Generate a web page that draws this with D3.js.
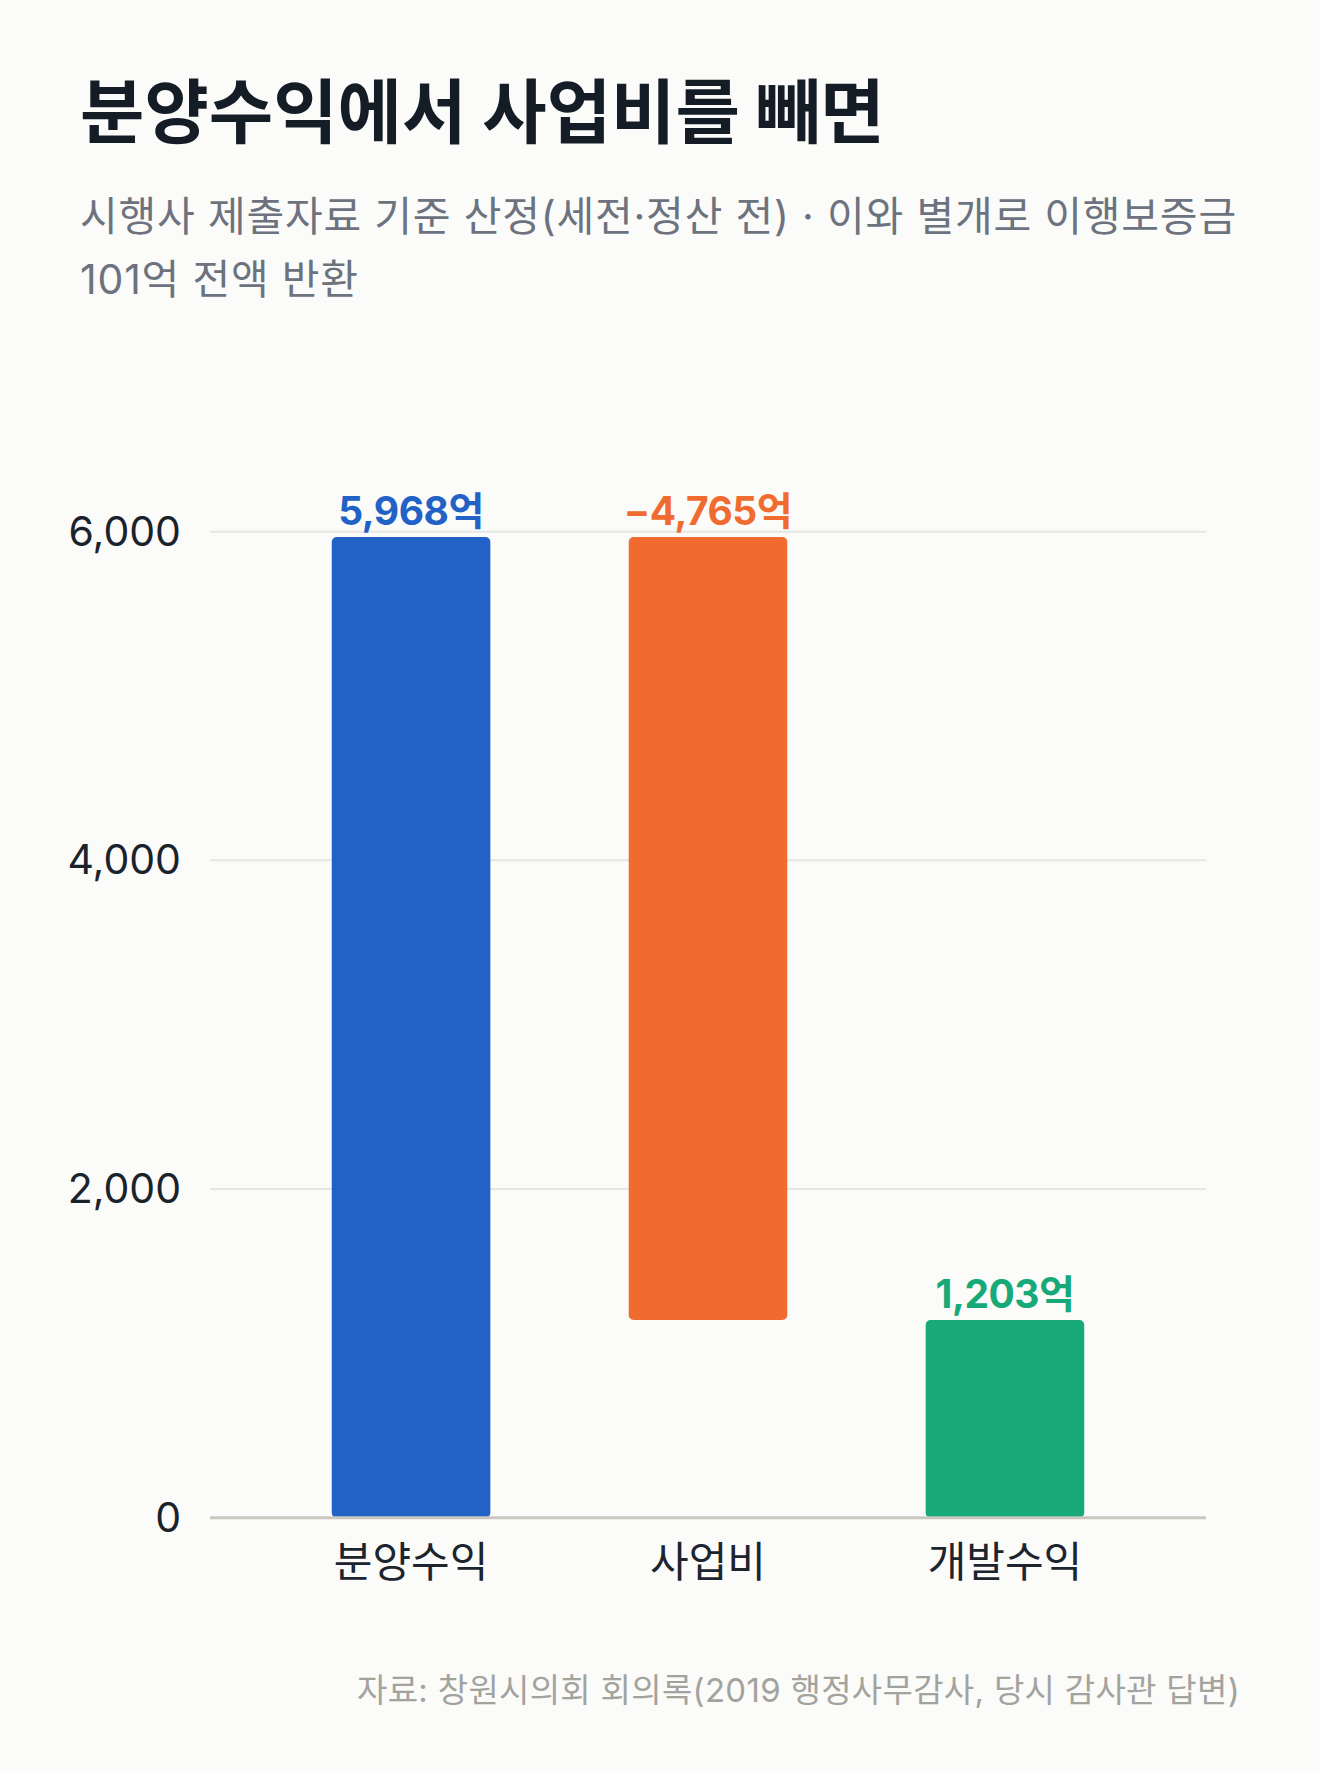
<!DOCTYPE html>
<html>
<head>
<meta charset="utf-8">
<script src="https://cdn.jsdelivr.net/npm/d3@7"></script>
<style>
  html, body { margin: 0; padding: 0; background: #fbfbf9; }
  svg { display: block; }
  text { font-family: "Inter", "Noto Sans CJK KR", sans-serif; }
</style>
</head>
<body>
<svg id="chart" width="1320" height="1773"></svg>
<script>
// ---- data ----
const categories = ["분양수익", "사업비", "개발수익"];
const values = [5968, -4765, 1203];
const barTypes = ["total", "delta", "total"];
const barColors = ["#2262c6", "#f06b30", "#18a978"];
const yTicks = [0, 2000, 4000, 6000];
const titleText = "분양수익에서 사업비를 빼면";
const subtitleLines = ["시행사 제출자료 기준 산정(세전·정산 전) · 이와 별개로 이행보증금", "101억 전액 반환"];
const sourceText = "자료: 창원시의회 회의록(2019 행정사무감사, 당시 감사관 답변)";

// ---- layout ----
const W = 1320, H = 1773;
const svg = d3.select("#chart");
svg.append("rect").attr("width", W).attr("height", H).attr("fill", "#fbfbf9");

const plot = { left: 210, right: 1206, top: 531.7, bottom: 1517.7 };

const x = d3.scaleBand().domain(categories)
  .range([plot.left, plot.right]).paddingInner(0.466).paddingOuter(0.41);
const y = d3.scaleLinear().domain([0, 6000]).range([plot.bottom, plot.top]);

// waterfall extents
let running = 0;
const bars = categories.map((c, i) => {
  let y0, y1;
  if (barTypes[i] === "total") { y0 = 0; y1 = values[i]; running = values[i]; }
  else { y0 = running; y1 = running + values[i]; running = y1; }
  return { cat: c, value: values[i], lo: Math.min(y0, y1), hi: Math.max(y0, y1), color: barColors[i] };
});

// title & subtitle
svg.append("text").attr("x", 80).attr("y", 138)
  .attr("font-size", 70).attr("font-weight", 700).attr("fill", "#141c25")
  .attr("letter-spacing", 0)
  .style("font-family", '"Noto Sans CJK KR", sans-serif')
  .text(titleText);

svg.selectAll("text.sub").data(subtitleLines).enter().append("text")
  .attr("class", "sub")
  .attr("x", 80).attr("y", (d, i) => 231 + i * 63)
  .attr("font-size", 41).attr("fill", "#6c737e")
  .attr("letter-spacing", 0.8)
  .text(d => d);

// grid
const grid = svg.append("g");
grid.selectAll("line").data(yTicks.filter(t => t !== 0)).enter().append("line")
  .attr("x1", plot.left).attr("x2", plot.right)
  .attr("y1", d => y(d)).attr("y2", d => y(d))
  .attr("stroke", "#e6e6e3").attr("stroke-width", 2);

// y axis labels
const yAxis = d3.axisLeft(y).tickValues(yTicks).tickSize(0).tickPadding(0)
  .tickFormat(d3.format(","));
const yg = svg.append("g").attr("transform", `translate(181,0)`).call(yAxis);
yg.select(".domain").remove();
yg.selectAll("text").attr("font-size", 41).attr("fill", "#1a222c")
  .attr("font-family", null).attr("dy", "0.33em");

// bars
svg.append("g").selectAll("rect").data(bars).enter().append("rect")
  .attr("x", d => x(d.cat)).attr("width", x.bandwidth())
  .attr("y", d => y(d.hi)).attr("height", d => y(d.lo) - y(d.hi))
  .attr("rx", 5).attr("ry", 5)
  .attr("fill", d => d.color);

// baseline
svg.append("line").attr("x1", plot.left).attr("x2", plot.right)
  .attr("y1", y(0)).attr("y2", y(0))
  .attr("stroke", "#c9c7be").attr("stroke-width", 3);

// value labels
const fmt = d3.format(",");
svg.append("g").selectAll("text").data(bars).enter().append("text")
  .attr("x", d => x(d.cat) + x.bandwidth() / 2)
  .attr("y", d => y(d.hi) - 12)
  .attr("text-anchor", "middle")
  .attr("font-size", 39).attr("font-weight", 700)
  .attr("letter-spacing", -0.5)
  .attr("fill", d => d.color)
  .text(d => (d.value < 0 ? "\u2212" : "") + fmt(Math.abs(d.value)) + "억");

// x axis labels
const xAxis = d3.axisBottom(x).tickSize(0).tickPadding(0);
const xg = svg.append("g").attr("transform", `translate(0,1577)`).call(xAxis);
xg.select(".domain").remove();
xg.selectAll("text").attr("font-size", 42).attr("fill", "#1c242e")
  .attr("font-family", null).attr("dy", 0);

// source
svg.append("text").attr("x", 1240).attr("y", 1702)
  .attr("text-anchor", "end")
  .attr("font-size", 33).attr("fill", "#a3a39e")
  .attr("letter-spacing", 0.3)
  .text(sourceText);
</script>
</body>
</html>
